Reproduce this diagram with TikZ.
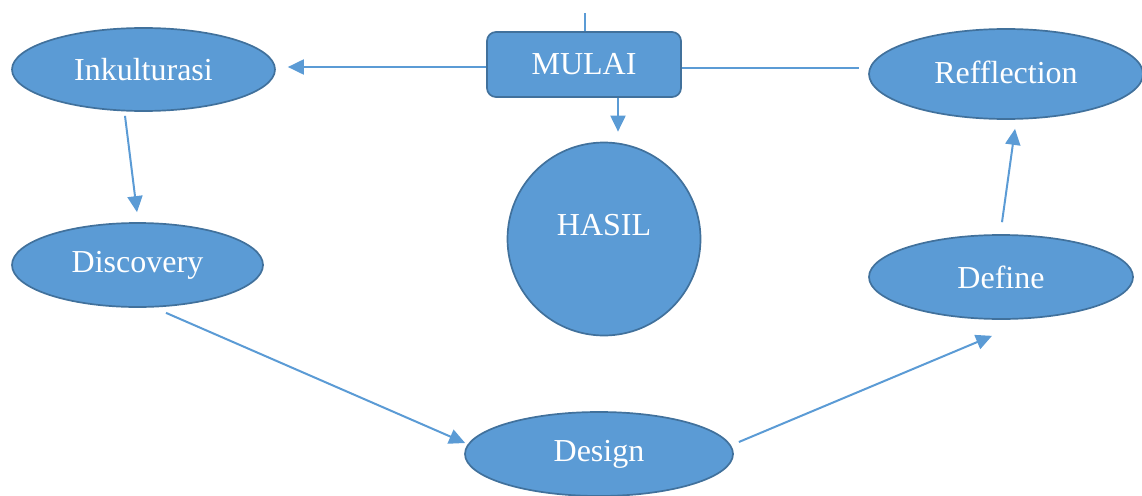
\documentclass[tikz,border=0pt]{standalone}
\usepackage{fontspec}
\setmainfont{Liberation Serif}
\usetikzlibrary{shapes.geometric,arrows.meta,calc}
\definecolor{boxfill}{HTML}{5B9BD5}
\definecolor{boxline}{HTML}{41719C}
\definecolor{arrowcol}{HTML}{5B9BD5}
\tikzset{
  shapebox/.style={fill=boxfill,draw=boxline,line width=1.7pt,text=white,inner sep=0pt,font=\fontsize{32}{38}\selectfont},
  oval/.style={shapebox,ellipse},
  conn/.style={draw=arrowcol,line width=2pt},
  arr/.style={conn,-{Triangle[length=16pt,width=15pt]}},
  lbl/.style={text=white,font=\fontsize{32}{38}\selectfont,inner sep=0pt}
}
\begin{document}
\begin{tikzpicture}[x=1pt,y=-1pt]
\useasboundingbox (0,0) rectangle (1142,495);
\node[oval,minimum width=263pt,minimum height=83pt] (ink) at (143.5,69.5) {Inkulturasi};
\node[shapebox,rectangle,rounded corners=9pt,minimum width=194pt,minimum height=65pt] (mulai) at (584,64.5) {MULAI};
\node[oval,minimum width=274pt,minimum height=90pt] (refl) at (1006,74) {};
\node[lbl] (refltext) at (1006,72) {Refflection};
\node[shapebox,circle,minimum size=193pt] (hasil) at (604,239) {};
\node[lbl] (hasiltext) at (604,225) {HASIL};
\node[oval,minimum width=251pt,minimum height=84pt] (disc) at (137.5,265) {Discovery};
\node[oval,minimum width=264pt,minimum height=84pt] (define) at (1001,277) {Define};
\node[oval,minimum width=268pt,minimum height=84pt] (design) at (599,454) {Design};
\coordinate (topin) at ($(mulai.north)+(1,-18)$);
\draw[conn,line width=1.5pt] (topin) -- ($(mulai.north)+(1,0)$);
\draw[arr] ($(mulai.west)+(0,2.5)$) -- ($(ink.east)+(12,-2.5)$);
\coordinate (rightend) at ($(refl.west)+(-9,-6)$);
\draw[conn] ($(mulai.east)+(0,3.5)$) -- (rightend);
\draw[arr] ($(mulai.south)+(34,0)$) -- ($(hasil.north)+(14,-10)$);
\draw[arr] ($(ink.south)+(-18.5,4)$) -- ($(disc.north)+(-0.5,-10)$);
\draw[arr] ($(disc.south)+(28.5,5)$) -- ($(design.west)+(1,-11)$);
\draw[arr] ($(design.east)+(5,-12)$) -- ($(define.south)+(-9,16)$);
\draw[arr] ($(define.north)+(1,-12)$) -- ($(refl.south)+(9,9)$);
\end{tikzpicture}
\end{document}
